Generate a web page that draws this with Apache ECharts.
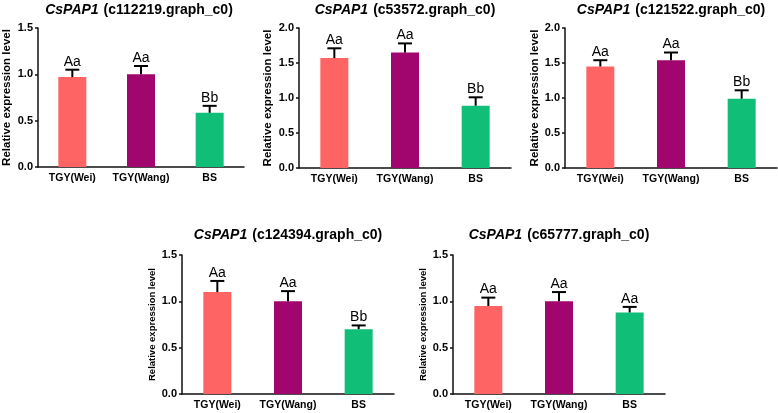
<!DOCTYPE html>
<html>
<head>
<meta charset="utf-8">
<script src="https://cdn.jsdelivr.net/npm/echarts@6/dist/echarts.min.js"></script>
<style>
html,body{margin:0;padding:0;background:#fff;}
#chart{width:778px;height:413px;}
</style>
</head>
<body>
<div id="chart"></div>
<script>
// ---- data ----
const categories = ['TGY(Wei)', 'TGY(Wang)', 'BS'];
const geneIds = ['c112219.graph_c0', 'c53572.graph_c0', 'c121522.graph_c0', 'c124394.graph_c0', 'c65777.graph_c0'];
const yMaxes = [1.5, 2.0, 2.0, 1.5, 1.5];
const yTicks = [0.0, 0.5, 1.0, 1.5, 2.0];

const means1 = [0.97, 1.00, 0.585];
const upper1 = [1.05, 1.09, 0.66];
const letters1 = ['Aa', 'Aa', 'Bb'];

const means2 = [1.57, 1.65, 0.89];
const upper2 = [1.71, 1.78, 1.01];
const letters2 = ['Aa', 'Aa', 'Bb'];

const means3 = [1.45, 1.54, 0.99];
const upper3 = [1.54, 1.65, 1.11];
const letters3 = ['Aa', 'Aa', 'Bb'];

const means4 = [1.10, 1.00, 0.70];
const upper4 = [1.22, 1.11, 0.74];
const letters4 = ['Aa', 'Aa', 'Bb'];

const means5 = [0.95, 1.00, 0.88];
const upper5 = [1.04, 1.10, 0.94];
const letters5 = ['Aa', 'Aa', 'Aa'];

const barColors = ['#FF6464', '#A0066E', '#10BE78'];

// ---- layout ----
const panels = [
  {means: means1, upper: upper1, letters: letters1, grid: {left: 34, top: 28, width: 210, height: 139}, nameSize: 11.5, nameGap: 25, titleTop: 1},
  {means: means2, upper: upper2, letters: letters2, grid: {left: 299, top: 28, width: 212, height: 140}, nameSize: 11.5, nameGap: 25, titleTop: 1},
  {means: means3, upper: upper3, letters: letters3, grid: {left: 565, top: 28, width: 212, height: 140}, nameSize: 11.5, nameGap: 24, titleTop: 1},
  {means: means4, upper: upper4, letters: letters4, grid: {left: 182, top: 255, width: 212, height: 139}, nameSize: 9.5, nameGap: 22, titleTop: 226},
  {means: means5, upper: upper5, letters: letters5, grid: {left: 453, top: 255, width: 212, height: 139}, nameSize: 9.5, nameGap: 22, titleTop: 226}
];

const FONT = 'Liberation Sans, Arial, Helvetica, sans-serif';
const AXIS_COLOR = '#111';

const option = {
  animation: false,
  backgroundColor: '#fff',
  title: [], grid: [], xAxis: [], yAxis: [], series: []
};

panels.forEach((p, i) => {
  option.grid.push(Object.assign({containLabel: false}, p.grid));
  option.title.push({
    text: '{i|CsPAP1} {n|(' + geneIds[i] + ')}',
    left: p.grid.left + p.grid.width / 2,
    top: p.titleTop,
    textAlign: 'center',
    padding: 0,
    textStyle: {
      rich: {
        i: {fontFamily: FONT, fontSize: 14, fontWeight: 'bold', fontStyle: 'italic', color: '#000'},
        n: {fontFamily: FONT, fontSize: 14, fontWeight: 'bold', color: '#000'}
      }
    }
  });
  option.xAxis.push({
    type: 'category',
    gridIndex: i,
    data: categories,
    axisLine: {lineStyle: {color: AXIS_COLOR, width: 1.5}},
    axisTick: {show: false},
    axisLabel: {interval: 0, hideOverlap: false, fontFamily: FONT, fontSize: 10.5, fontWeight: 'bold', color: '#000', margin: 6},
    splitLine: {show: false}
  });
  option.yAxis.push({
    type: 'value',
    gridIndex: i,
    min: 0,
    max: yMaxes[i],
    interval: yTicks[1] - yTicks[0],
    name: 'Relative expression level',
    nameLocation: 'middle',
    nameGap: p.nameGap,
    nameTextStyle: {fontFamily: FONT, fontSize: p.nameSize, fontWeight: 'bold', color: '#000'},
    axisLine: {show: true, lineStyle: {color: AXIS_COLOR, width: 1.5}},
    axisTick: {show: true, length: 3, lineStyle: {color: AXIS_COLOR, width: 1.5}},
    axisLabel: {fontFamily: FONT, fontSize: 11, fontWeight: 'bold', color: '#000', margin: 5,
      formatter: v => v.toFixed(1)},
    splitLine: {show: false}
  });
  option.series.push({
    type: 'bar',
    xAxisIndex: i,
    yAxisIndex: i,
    barWidth: 28,
    data: p.means.map((v, k) => ({value: v, itemStyle: {color: barColors[k]}}))
  });
  const letters = p.letters;
  option.series.push({
    type: 'custom',
    xAxisIndex: i,
    yAxisIndex: i,
    z: 3,
    data: p.means.map((v, k) => [k, v, p.upper[k]]),
    renderItem: function (params, api) {
      const x = api.value(0);
      const pBar = api.coord([x, api.value(1)]);
      const pTop = api.coord([x, api.value(2)]);
      const style = {stroke: '#000', lineWidth: 2};
      return {
        type: 'group',
        children: [
          {type: 'line', shape: {x1: pBar[0], y1: pBar[1], x2: pTop[0], y2: pTop[1]}, style: style},
          {type: 'line', shape: {x1: pTop[0] - 7, y1: pTop[1], x2: pTop[0] + 7, y2: pTop[1]}, style: style},
          {type: 'text', x: pTop[0], y: pTop[1] - 1,
            style: {text: letters[params.dataIndex], textAlign: 'center', textVerticalAlign: 'bottom',
              font: '14px ' + FONT, fill: '#000'}}
        ]
      };
    }
  });
});

const chart = echarts.init(document.getElementById('chart'), null, {renderer: 'canvas'});
chart.setOption(option);
</script>
</body>
</html>
